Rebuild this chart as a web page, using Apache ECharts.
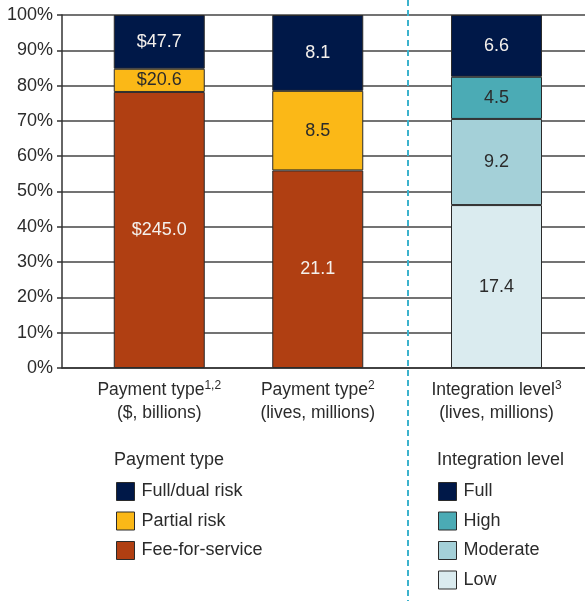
<!DOCTYPE html>
<html lang="en">
    <head>
        <meta charset="UTF-8" />
        <title>Payment and integration mix</title>
        <script src="https://cdn.jsdelivr.net/npm/echarts@6/dist/echarts.min.js"></script>
        <style>
            html, body { margin: 0; padding: 0; background: #fff; }
            #chart { width: 585px; height: 601px; }
        </style>
    </head>
    <body>
        <div id="chart"></div>
        <script>
            // payment bars: $ billions, lives millions
            const paymentCategories = ["Payment type{sup|1,2}\n($, billions)", "Payment type{sup|2}\n(lives, millions)"];
            const feeForService = [245.0, 21.1];
            const partialRisk = [20.6, 8.5];
            const fullDualRisk = [47.7, 8.1];

            // integration bar: lives millions
            const integrationCategories = ["Integration level{sup|3}\n(lives, millions)"];
            const lowLevel = [17.4];
            const moderateLevel = [9.2];
            const highLevel = [4.5];
            const fullLevel = [6.6];

            const yTicks = [0, 10, 20, 30, 40, 50, 60, 70, 80, 90, 100];
            const dollarPrefix = ["$", ""];

            const font = "Liberation Sans, Arial, sans-serif";
            const textColor = "#2b2b2b";

            //share of each stack, so bars read as 100%
            function toPercent(seriesList) {
                const totals = seriesList[0].map((_, i) => seriesList.reduce((s, arr) => s + arr[i], 0));
                return seriesList.map(arr => arr.map((v, i) => ({ value: (v / totals[i]) * 100, raw: v })));
            }

            const payPct = toPercent([feeForService, partialRisk, fullDualRisk]);
            const intPct = toPercent([lowLevel, moderateLevel, highLevel, fullLevel]);

            function barSeries(name, data, color, labelColor, axis, prefixes) {
                return {
                    name: name,
                    type: "bar",
                    stack: "s" + axis,
                    xAxisIndex: axis,
                    yAxisIndex: axis,
                    barWidth: 91,
                    data: data,
                    itemStyle: { color: color, borderColor: "#2b2b2b", borderWidth: 1 },
                    label: {
                        show: true,
                        position: "inside",
                        color: labelColor,
                        fontFamily: font,
                        fontSize: 18,
                        formatter: p => (prefixes ? prefixes[p.dataIndex] : "") + p.data.raw.toFixed(1),
                    },
                    emphasis: { disabled: true },
                };
            }

            const axisLabelStyle = {
                interval: 0,
                color: textColor,
                fontFamily: font,
                fontSize: 17.5,
                lineHeight: 23,
                margin: 11,
                rich: {
                    sup: { fontSize: 12, fontFamily: font, color: textColor, padding: [0, 0, 9, 0] },
                },
            };

            const legendBase = {
                orient: "vertical",
                top: 482,
                padding: 0,
                height: 119,
                itemWidth: 18,
                itemHeight: 18,
                itemGap: 10.5,
                icon: "rect",
                selectedMode: false,
                itemStyle: { borderColor: "#2b2b2b", borderWidth: 1 },
                textStyle: { fontSize: 18, color: textColor, fontFamily: font, padding: [0, 0, 0, 2] },
            };

            const chart = echarts.init(document.getElementById("chart"));
            chart.setOption({
                animation: false,
                textStyle: { fontFamily: font },
                title: [
                    { text: "Payment type", left: 109, top: 446, textStyle: { fontSize: 18, fontWeight: "normal", color: textColor, fontFamily: font } },
                    { text: "Integration level", left: 432, top: 446, textStyle: { fontSize: 18, fontWeight: "normal", color: textColor, fontFamily: font } },
                ],
                legend: [
                    Object.assign({}, legendBase, { data: ["Full/dual risk", "Partial risk", "Fee-for-service"], left: 116 }),
                    Object.assign({}, legendBase, { data: ["Full", "High", "Moderate", "Low"], left: 438 }),
                ],
                grid: [
                    { left: 62, right: 0, top: 15, bottom: 233 },
                    { left: 80, width: 317, top: 15, bottom: 233 },
                    { left: 408, width: 179, top: 15, bottom: 233 },
                ],
                xAxis: [
                    {
                        gridIndex: 0,
                        type: "category",
                        data: [""],
                        axisLine: { show: true, lineStyle: { color: "#333", width: 1.5 } },
                        axisTick: { show: false },
                        axisLabel: { show: false },
                    },
                    {
                        gridIndex: 1,
                        type: "category",
                        data: paymentCategories,
                        axisLine: { show: false },
                        axisTick: { show: false },
                        axisLabel: axisLabelStyle,
                    },
                    {
                        gridIndex: 2,
                        type: "category",
                        data: integrationCategories,
                        axisLine: { show: false },
                        axisTick: { show: false },
                        axisLabel: axisLabelStyle,
                    },
                ],
                yAxis: [
                    {
                        gridIndex: 0,
                        type: "value",
                        min: yTicks[0],
                        max: yTicks[yTicks.length - 1],
                        interval: yTicks[1] - yTicks[0],
                        axisLine: { show: true, lineStyle: { color: "#333", width: 1.5 } },
                        axisTick: { show: true, length: 5, lineStyle: { color: "#333", width: 1.5 } },
                        splitLine: { show: true, lineStyle: { color: "#444", width: 1.5 } },
                        axisLabel: { formatter: "{value}%", color: textColor, fontSize: 18, fontFamily: font, margin: 9 },
                    },
                    { gridIndex: 1, type: "value", min: 0, max: 100, show: false },
                    { gridIndex: 2, type: "value", min: 0, max: 100, show: false },
                ],
                graphic: [
                    {
                        type: "line",
                        shape: { x1: 408, y1: 0, x2: 408, y2: 601 },
                        style: { stroke: "#3cb2cc", lineWidth: 2, lineDash: [6, 4] },
                        z: 10,
                    },
                ],
                series: [
                    barSeries("Fee-for-service", payPct[0], "#b03f12", "#f4f0ec", 1, dollarPrefix),
                    barSeries("Partial risk", payPct[1], "#fbb817", "#2b2b2b", 1, dollarPrefix),
                    barSeries("Full/dual risk", payPct[2], "#001848", "#f4f0ec", 1, dollarPrefix),
                    barSeries("Low", intPct[0], "#daebef", "#2b2b2b", 2),
                    barSeries("Moderate", intPct[1], "#a4d0d8", "#2b2b2b", 2),
                    barSeries("High", intPct[2], "#4babb5", "#2b2b2b", 2),
                    barSeries("Full", intPct[3], "#001848", "#f4f0ec", 2),
                ],
            });
        </script>
    </body>
</html>
